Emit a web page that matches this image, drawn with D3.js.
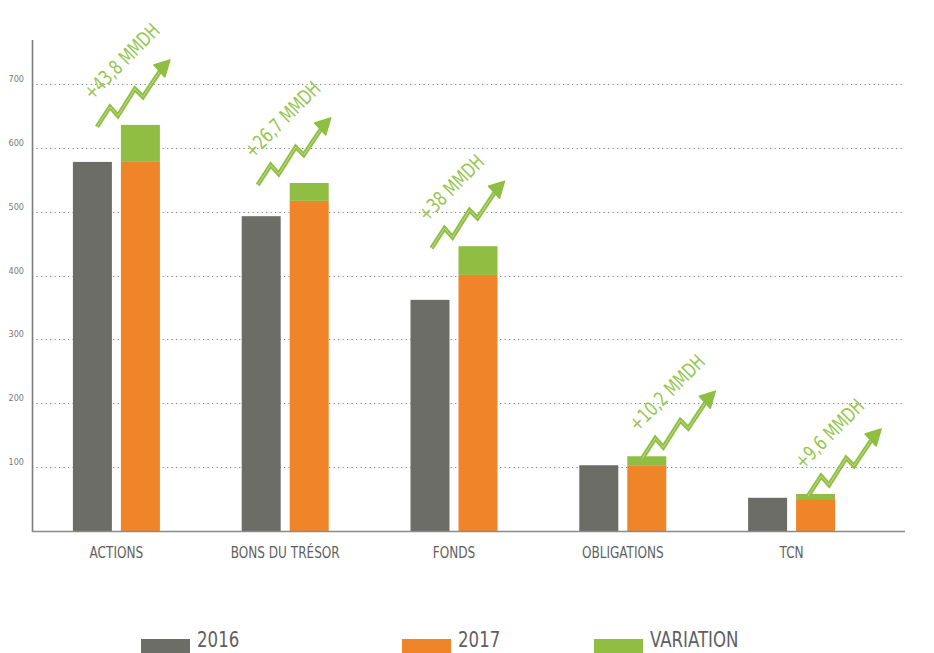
<!DOCTYPE html>
<html>
<head>
<meta charset="utf-8">
<script src="https://cdn.jsdelivr.net/npm/d3@7"></script>
<style>
  body { margin: 0; background: #fff; }
  text { font-family: "Liberation Sans Narrow", "DejaVu Sans Condensed", sans-serif; }
</style>
</head>
<body>
<div id="chart"></div>
<script>
const categories = ["ACTIONS", "BONS DU TRÉSOR", "FONDS", "OBLIGATIONS", "TCN"];
const values2016 = [578, 493, 362, 103, 52];
const values2017 = [578, 517, 401, 103, 50];
const variation = [58, 28, 45, 14, 8];
const variationLabels = ["+43,8 MMDH", "+26,7 MMDH", "+38 MMDH", "+10,2 MMDH", "+9,6 MMDH"];
const yTicks = [100, 200, 300, 400, 500, 600, 700];
const legendLabels = ["2016", "2017", "VARIATION"];

const colors = { gray: "#6d6d68", orange: "#ef8429", green: "#8fbe43" };

var width = 934, height = 653;

var svg = d3.select("#chart").append("svg")
  .attr("width", width)
  .attr("height", height);

var x = d3.scaleBand().domain(categories).range([32, 876]);
var x1 = d3.scaleBand().domain(["2016", "2017"]).range([0, 87]).paddingInner(0.1875);
var y = d3.scaleLinear().domain([0, 700]).range([531, 84]);

// dotted grid
svg.append("g").selectAll("line")
  .data(yTicks).enter().append("line")
  .attr("x1", 32).attr("x2", 905)
  .attr("y1", d => Math.round(y(d)) + 0.5)
  .attr("y2", d => Math.round(y(d)) + 0.5)
  .attr("stroke", "#8a8a8a")
  .attr("stroke-width", 1.2)
  .attr("stroke-dasharray", "1.3 3.2");

svg.append("g").selectAll("text")
  .data(yTicks).enter().append("text")
  .attr("x", 24).attr("y", d => y(d) - 2)
  .attr("text-anchor", "end")
  .attr("font-size", 9)
  .attr("fill", "#7a7a7a")
  .text(d => d);

// bars
var groupX = (c) => x(c) + x.bandwidth() / 2 - 43.5;

svg.append("g").selectAll("rect")
  .data(categories).enter().append("rect")
  .attr("x", c => groupX(c) + x1("2016"))
  .attr("width", x1.bandwidth())
  .attr("y", (c, i) => y(values2016[i]))
  .attr("height", (c, i) => y(0) - y(values2016[i]))
  .attr("fill", colors.gray);

svg.append("g").selectAll("rect")
  .data(categories).enter().append("rect")
  .attr("x", c => groupX(c) + x1("2017"))
  .attr("width", x1.bandwidth())
  .attr("y", (c, i) => y(values2017[i]))
  .attr("height", (c, i) => y(0) - y(values2017[i]))
  .attr("fill", colors.orange);

svg.append("g").selectAll("rect")
  .data(categories).enter().append("rect")
  .attr("x", c => groupX(c) + x1("2017"))
  .attr("width", x1.bandwidth())
  .attr("y", (c, i) => y(values2017[i] + variation[i]))
  .attr("height", (c, i) => y(values2017[i]) - y(values2017[i] + variation[i]))
  .attr("fill", colors.green);

// axes lines
svg.append("line")
  .attr("x1", 32.5).attr("x2", 32.5).attr("y1", 40).attr("y2", 532)
  .attr("stroke", "#7d7d7d").attr("stroke-width", 1.6);
svg.append("line")
  .attr("x1", 32).attr("x2", 905).attr("y1", 531.5).attr("y2", 531.5)
  .attr("stroke", "#8a8a8a").attr("stroke-width", 1.6);

// category labels
svg.append("g").selectAll("g")
  .data(categories).enter().append("g")
  .attr("transform", c => "translate(" + (x(c) + x.bandwidth() / 2) + ",558)")
  .append("text")
  .attr("transform", "scale(0.84,1)")
  .attr("text-anchor", "middle")
  .attr("font-size", 16)
  .attr("fill", "#5f5f5f")
  .text(c => c);

// growth arrows + labels
var arrowDx = [-24, -32, -27, 15, 12];
var zig = [[0, 0], [13, -20], [21, -11], [38, -38], [46, -30], [64, -57]];
var head = [[73, -67], [57, -62], [68, -50]];

var arrows = svg.append("g").selectAll("g")
  .data(categories).enter().append("g")
  .attr("transform", (c, i) => "translate(" + (groupX(c) + x1("2017") + arrowDx[i]) + "," +
    (y(values2017[i] + variation[i]) + 2) + ")");

arrows.append("path")
  .attr("d", d3.line()(zig))
  .attr("fill", "none")
  .attr("stroke", colors.green)
  .attr("stroke-width", 4.5)
  .attr("stroke-linejoin", "miter");
arrows.append("path")
  .attr("d", d3.line()(zig))
  .attr("fill", "none")
  .attr("stroke", "#c4df98")
  .attr("stroke-width", 0.9);
arrows.append("path")
  .attr("d", d3.line()(head) + "Z")
  .attr("fill", colors.green)
  .attr("stroke", colors.green)
  .attr("stroke-width", 1.5)
  .attr("stroke-linejoin", "round");

arrows.append("text")
  .attr("transform", "translate(-5,-26) rotate(-45) scale(0.82,1)")
  .attr("font-size", 20)
  .attr("fill", "#96c653")
  .text((c, i) => variationLabels[i]);

// legend
var legendX = [141, 402, 594];
var legendColors = [colors.gray, colors.orange, colors.green];
var legend = svg.append("g").selectAll("g")
  .data(legendLabels).enter().append("g")
  .attr("transform", (d, i) => "translate(" + legendX[i] + ",0)");
legend.append("rect")
  .attr("x", 0).attr("y", 639).attr("width", 49).attr("height", 14)
  .attr("fill", (d, i) => legendColors[i]);
legend.append("g")
  .attr("transform", "translate(56,647)")
  .append("text")
  .attr("transform", "scale(0.84,1)")
  .attr("font-size", 22)
  .attr("fill", "#5f5f5f")
  .text(d => d);
</script>
</body>
</html>
